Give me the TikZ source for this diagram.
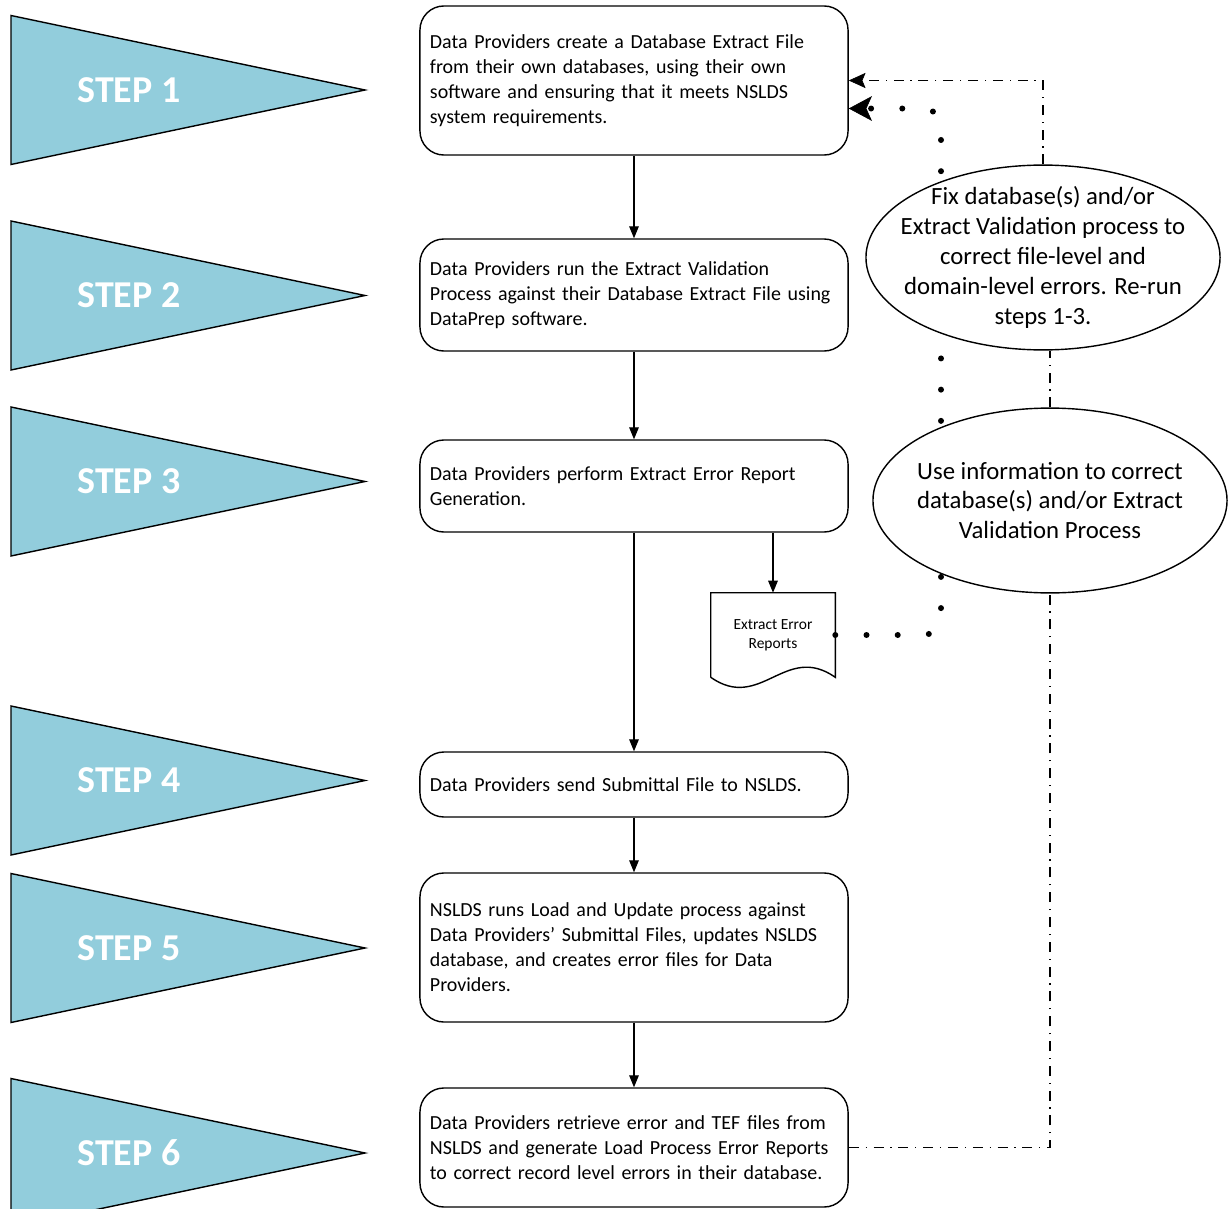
\documentclass[tikz,border=0pt]{standalone}
\usepackage{fontspec}
\setmainfont{Carlito}
\usepackage{tikz}
\usetikzlibrary{positioning, arrows.meta, calc, shapes.geometric}
\pgfdeclarelayer{background}
\pgfsetlayers{background,main}

\definecolor{stepblue}{HTML}{92CDDC}
\newcommand{\boxfont}{\fontsize{14.2}{17.8}\selectfont}
\newcommand{\ovalfont}{\fontsize{17.6}{21.3}\selectfont}
\newcommand{\docfont}{\fontsize{11}{13.5}\selectfont}
\newcommand{\stepfont}{\bfseries\fontsize{27}{30}\selectfont}

\tikzset{
  stepbox/.style={draw, line width=1pt, rounded corners=0.6cm, inner xsep=0.25cm,
    text width=10.2cm, align=left, font=\boxfont},
  oval/.style={draw, line width=1pt, ellipse, fill=white, inner sep=0pt,
    minimum width=8.85cm, minimum height=4.62cm},
  flow/.style={line width=0.8pt, -{Triangle[length=0.3cm,width=0.24cm]}},
  dashdot/.style={line width=1.2pt, dash pattern=on 0.25cm off 0.17cm on 0.03cm off 0.17cm},
  dashdotarrow/.style={dashdot,
    -{Stealth[length=0.42cm,width=0.38cm,inset=0.08cm,line width=0.5pt]}},
  dotline/.style={line width=0.15cm, line cap=round, dash pattern=on 0pt off 0.78cm,
    rounded corners=0.45cm,
    -{Stealth[length=0.58cm,width=0.62cm,inset=0.14cm,line width=0.5pt]}},
}

\begin{document}
\begin{tikzpicture}[x=0.025cm, y=-0.025cm]
\useasboundingbox (0,0) rectangle (1231,1209);

% --- Step pennants ---
\foreach \yc/\lbl in {90/1, 295.5/2, 481.5/3, 780.5/4, 948/5, 1153/6} {
  \filldraw[fill=stepblue, draw=black, line width=1pt]
    (11,\yc-74.5) -- (365,\yc) -- (11,\yc+74.5) -- cycle;
  \node[white, font=\stepfont] (step\lbl) at (129,\yc) {STEP \lbl};
}

% --- Process boxes ---
\node[stepbox, minimum height=3.725cm] (box1) at (634,80.5)
  {Data Providers create a Database Extract File\\from their own databases, using their own\\software and ensuring that it meets NSLDS\\system requirements.};
\node[stepbox, minimum height=2.8cm] (box2) at (634,295)
  {Data Providers run the Extract Validation\\Process against their Database Extract File using\\DataPrep software.};
\node[stepbox, minimum height=2.3cm] (box3) at (634,486)
  {Data Providers perform Extract Error Report\\Generation.};
\node[stepbox, minimum height=1.625cm] (box4) at (634,784.5)
  {Data Providers send Submittal File to NSLDS.};
\node[stepbox, minimum height=3.725cm] (box5) at (634,947.5)
  {NSLDS runs Load and Update process against\\Data Providers’ Submittal Files, updates NSLDS\\database, and creates error files for Data\\Providers.};
\node[stepbox, minimum height=2.975cm] (box6) at (634,1147.5)
  {Data Providers retrieve error and TEF files from\\NSLDS and generate Load Process Error Reports\\to correct record level errors in their database.};

% --- Report document ---
\node[minimum width=3.1cm, minimum height=2.1cm, inner sep=0pt, align=center, font=\docfont]
  (doc) at (773,635) {Extract Error\\Reports};
\draw[line width=1pt] (doc.south west) -- (doc.north west) -- (doc.north east) -- (doc.south east)
  .. controls ($(doc.south east)+(-50,-35)$) and ($(doc.south west)+(50,35)$) .. (doc.south west);

% --- Correction ovals ---
\node[oval, label={[font=\ovalfont, align=center]center:Fix database(s) and/or\\Extract Validation process to\\correct file-level and\\domain-level errors. Re-run\\steps 1-3.}]
  (fixdb) at (1043,257.5) {};
\node[oval, label={[font=\ovalfont, align=center]center:Use information to correct\\database(s) and/or Extract\\Validation Process}]
  (useinfo) at (1050,500.5) {};

% --- Main flow ---
\draw[flow] (box1.south) -- (box2.north);
\draw[flow] (box2.south) -- (box3.north);
\draw[flow] (box3.south) -- (box4.north);
\draw[flow] (box4.south) -- (box5.north);
\draw[flow] (box5.south) -- (box6.north);
\draw[flow] (doc.north |- box3.south) -- (doc.north);

% --- Feedback loops ---
\begin{pgfonlayer}{background}
\coordinate (dotx) at (941,0);
\draw[dotline] (doc.east) -| (dotx |- fixdb.north) |- ([yshift=-0.7cm]box1.east);
\draw[dashdot] (box6.east) -| (useinfo.south);
\draw[dashdot] (useinfo.north) -- (useinfo.north |- fixdb.south);
\draw[dashdotarrow] (fixdb.north) |- (box1.east);
\end{pgfonlayer}
\end{tikzpicture}
\end{document}
